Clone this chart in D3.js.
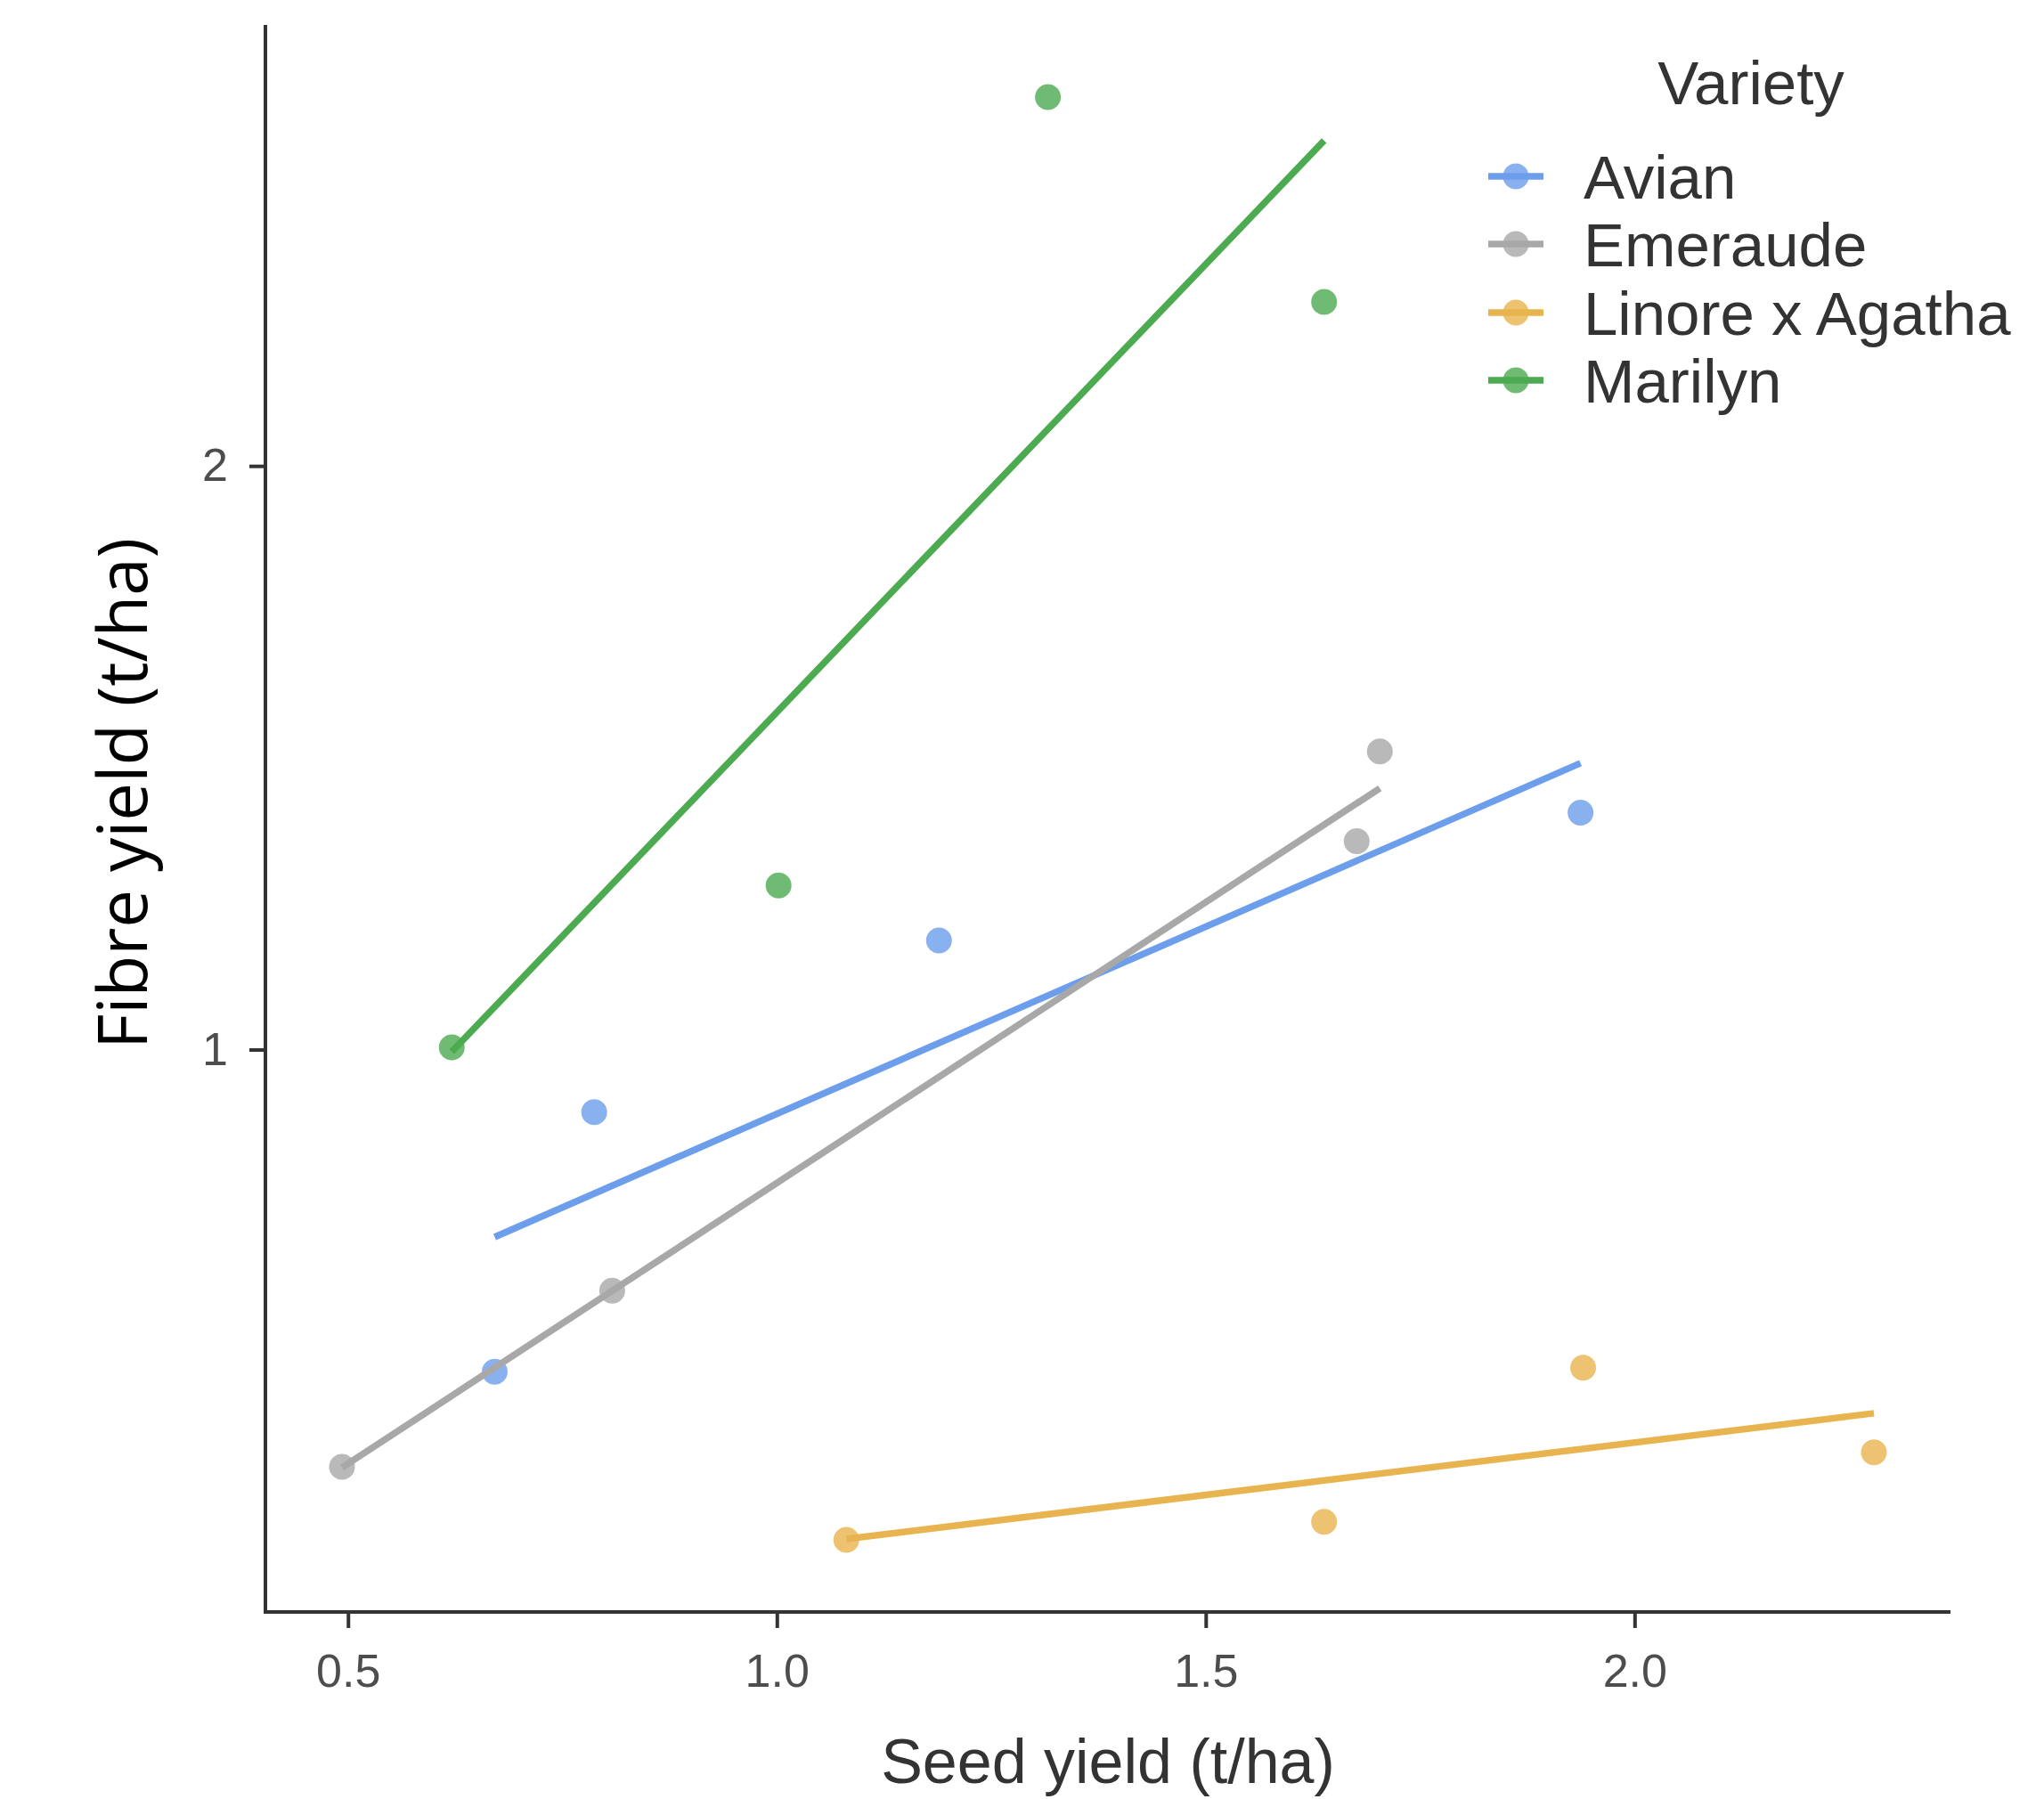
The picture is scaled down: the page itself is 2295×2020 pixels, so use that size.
<!DOCTYPE html>
<html>
<head>
<meta charset="utf-8">
<script src="https://cdn.jsdelivr.net/npm/d3@7"></script>
<style>
  html, body { margin: 0; padding: 0; background: #ffffff; }
  svg { display: block; }
</style>
</head>
<body>
<div id="chart"></div>
<script>
// ---- Data ----
const varieties = ["Avian", "Emeraude", "Linore x Agatha", "Marilyn"];
const avianSeed = [0.671, 0.787, 1.189, 1.937];
const avianFibre = [0.448, 0.893, 1.187, 1.406];
const emeraudeSeed = [0.493, 0.808, 1.676, 1.703];
const emeraudeFibre = [0.285, 0.587, 1.357, 1.511];
const linoreSeed = [1.081, 1.638, 1.940, 2.279];
const linoreFibre = [0.160, 0.191, 0.455, 0.310];
const marilynSeed = [0.621, 1.002, 1.316, 1.638];
const marilynFibre = [1.004, 1.281, 2.632, 2.281];
const xTicks = [0.5, 1.0, 1.5, 2.0];
const xTickLabels = ["0.5", "1.0", "1.5", "2.0"];
const yTicks = [1, 2];
const yTickLabels = ["1", "2"];
const colors = ["#6d9eeb", "#a8a8a8", "#e8b44f", "#4caa50"];
const xTitle = "Seed yield (t/ha)";
const yTitle = "Fibre yield (t/ha)";
const legendTitle = "Variety";

(function () {
const seeds = [avianSeed, emeraudeSeed, linoreSeed, marilynSeed];
const fibres = [avianFibre, emeraudeFibre, linoreFibre, marilynFibre];
const groups = varieties.map((v, i) => ({
  name: v, color: colors[i],
  pts: seeds[i].map((s, j) => ({ x: s, y: fibres[i][j] }))
}));

// ---- Layout ----
const W = 2295, H = 2020;
const pLeft = 298, pRight = 2190, pTop = 28, pBottom = 1810;
const font = "'Liberation Sans', Arial, Helvetica, sans-serif";

const allPts = groups.flatMap(g => g.pts);
const [xmin, xmax] = d3.extent(allPts, d => d.x);
const [ymin, ymax] = d3.extent(allPts, d => d.y);
const xr = xmax - xmin, yr = ymax - ymin;
const x = d3.scaleLinear().domain([xmin - 0.05 * xr, xmax + 0.05 * xr]).range([pLeft, pRight]);
const y = d3.scaleLinear().domain([ymin - 0.05 * yr, ymax + 0.05 * yr]).range([pBottom, pTop]);

const svg = d3.select("#chart").append("svg")
  .attr("width", W).attr("height", H)
  .style("background", "#fff");

// ---- Points ----
const pr = 14.5;
groups.forEach(g => {
  svg.append("g").selectAll("circle").data(g.pts).join("circle")
    .attr("cx", d => x(d.x)).attr("cy", d => y(d.y))
    .attr("r", pr).attr("fill", g.color).attr("fill-opacity", 0.8);
});

// ---- Linear fits (as geom_smooth(method = "lm")) ----
function fit(pts) {
  const mx = d3.mean(pts, d => d.x), my = d3.mean(pts, d => d.y);
  const sxy = d3.sum(pts, d => (d.x - mx) * (d.y - my));
  const sxx = d3.sum(pts, d => (d.x - mx) * (d.x - mx));
  const b = sxy / sxx, a = my - b * mx;
  const [x0, x1] = d3.extent(pts, d => d.x);
  return [{ x: x0, y: a + b * x0 }, { x: x1, y: a + b * x1 }];
}
const line = d3.line().x(d => x(d.x)).y(d => y(d.y));
groups.forEach(g => {
  svg.append("path").attr("d", line(fit(g.pts)))
    .attr("fill", "none").attr("stroke", g.color).attr("stroke-width", 7.5);
});

// ---- Axes ----
const xAxis = d3.axisBottom(x).tickValues(xTicks)
  .tickFormat((d, i) => xTickLabels[i]).tickSizeInner(18).tickSizeOuter(0).tickPadding(29);
const yAxis = d3.axisLeft(y).tickValues(yTicks)
  .tickFormat((d, i) => yTickLabels[i]).tickSizeInner(18).tickSizeOuter(0).tickPadding(24);

const gx = svg.append("g").attr("transform", `translate(0,${pBottom})`).call(xAxis);
const gy = svg.append("g").attr("transform", `translate(${pLeft},0)`).call(yAxis);
[gx, gy].forEach(g => {
  g.select(".domain").attr("stroke", "#333").attr("stroke-width", 4);
  g.selectAll(".tick line").attr("stroke", "#333").attr("stroke-width", 4);
  g.selectAll(".tick text").attr("fill", "#4d4d4d")
    .style("font-family", font).style("font-size", "52px");
});
gx.select(".domain").attr("d", `M${pLeft - 2},0H${pRight}`);
gy.select(".domain").attr("d", `M0,${pTop}V${pBottom + 2}`);

// ---- Axis titles ----
svg.append("text")
  .attr("x", (pLeft + pRight) / 2).attr("y", 2002)
  .attr("text-anchor", "middle").attr("fill", "#333")
  .style("font-family", font).style("font-size", "70px")
  .text(xTitle);

svg.append("text")
  .attr("transform", `translate(165,891) rotate(-90)`)
  .attr("text-anchor", "middle").attr("fill", "#000")
  .attr("textLength", 574).attr("lengthAdjust", "spacingAndGlyphs")
  .style("font-family", "'Open Sans', 'Noto Sans', sans-serif").style("font-size", "76px")
  .text(yTitle);

// ---- Legend ----
const legX = 1671, legKeyW = 62, legTextX = 1778;
const rowY = [198, 274, 351, 427];
const leg = svg.append("g");
leg.append("text")
  .attr("x", 1966).attr("y", 117).attr("text-anchor", "middle")
  .attr("fill", "#333").style("font-family", font).style("font-size", "69px")
  .text(legendTitle);
groups.forEach((g, i) => {
  const row = leg.append("g");
  row.append("circle").attr("cx", legX + legKeyW / 2).attr("cy", rowY[i])
    .attr("r", pr).attr("fill", g.color).attr("fill-opacity", 0.8);
  row.append("line").attr("x1", legX).attr("x2", legX + legKeyW)
    .attr("y1", rowY[i]).attr("y2", rowY[i])
    .attr("stroke", g.color).attr("stroke-width", 7.5);
  row.append("text").attr("x", legTextX).attr("y", rowY[i]).attr("dy", "0.36em")
    .attr("fill", "#333").style("font-family", font).style("font-size", "69px")
    .text(g.name);
});
})();
</script>
</body>
</html>
